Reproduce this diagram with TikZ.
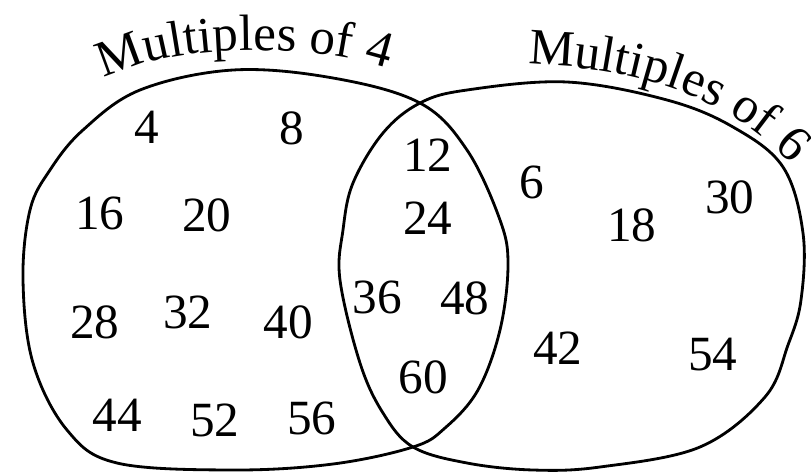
\documentclass[tikz,border=0pt]{standalone}
\usepackage{fontspec}
\setmainfont{Liberation Serif}
\usetikzlibrary{decorations.text}

\begin{document}
\begin{tikzpicture}[
      x=0.01cm, y=-0.01cm,
      every node/.style={font=\fontsize{14}{16}\selectfont},
      setline/.style={line width=0.8pt},
      setlabel/.style={decorate,decoration={text along path,text align=center,
          text={|\fontsize{14.5}{17}\selectfont|#1}}}
    ]
      \useasboundingbox (0,0) rectangle (811,472);
      % the two sets
      \draw[setline] plot[smooth cycle,tension=0.6] coordinates {
          (233,70) (333,78) (420,103) (467,150) (500,220) (508,265) (500,330)
          (478,390) (445,428) (413,447) (333,464) (233,470) (117,463) (67,430)
          (33,363) (23,280) (30,210) (50,170) (83,130) (140,90)};
      \draw[setline] plot[smooth cycle,tension=0.6] coordinates {
          (420,103) (467,90) (567,82) (667,100) (733,127) (783,167) (803,233)
          (801,300) (788,345) (765,397) (700,447) (600,467) (533,470) (467,463)
          (413,447) (383,413) (360,363) (340,280) (343,230) (353,183) (383,133)};
      % set labels
      \path[setlabel={Multiples of 4}] (95,84) .. controls (165,40) and (320,42) .. (398,72);
      \path[setlabel={Multiples of 6}] (518,64) .. controls (636,66) and (734,97) .. (798,172);
      % multiples of 4 only
      \node (n4) at (147,127) {4};
      \node (n8) at (292,128) {8};
      \node (n16) at (100,213) {16};
      \node (n20) at (207,215) {20};
      \node (n28) at (95,322) {28};
      \node (n32) at (188,312) {32};
      \node (n40) at (288,322) {40};
      \node (n44) at (117,415) {44};
      \node (n52) at (215,420) {52};
      \node (n56) at (312,418) {56};
      % both
      \node (n12) at (428,155) {12};
      \node (n24) at (428,218) {24};
      \node (n36) at (377,297) {36};
      \node (n48) at (465,298) {48};
      \node (n60) at (423,377) {60};
      % multiples of 6 only
      \node (n6) at (532,182) {6};
      \node (n18) at (632,225) {18};
      \node (n30) at (730,197) {30};
      \node (n42) at (558,348) {42};
      \node (n54) at (713,355) {54};
    \end{tikzpicture}
\end{document}
